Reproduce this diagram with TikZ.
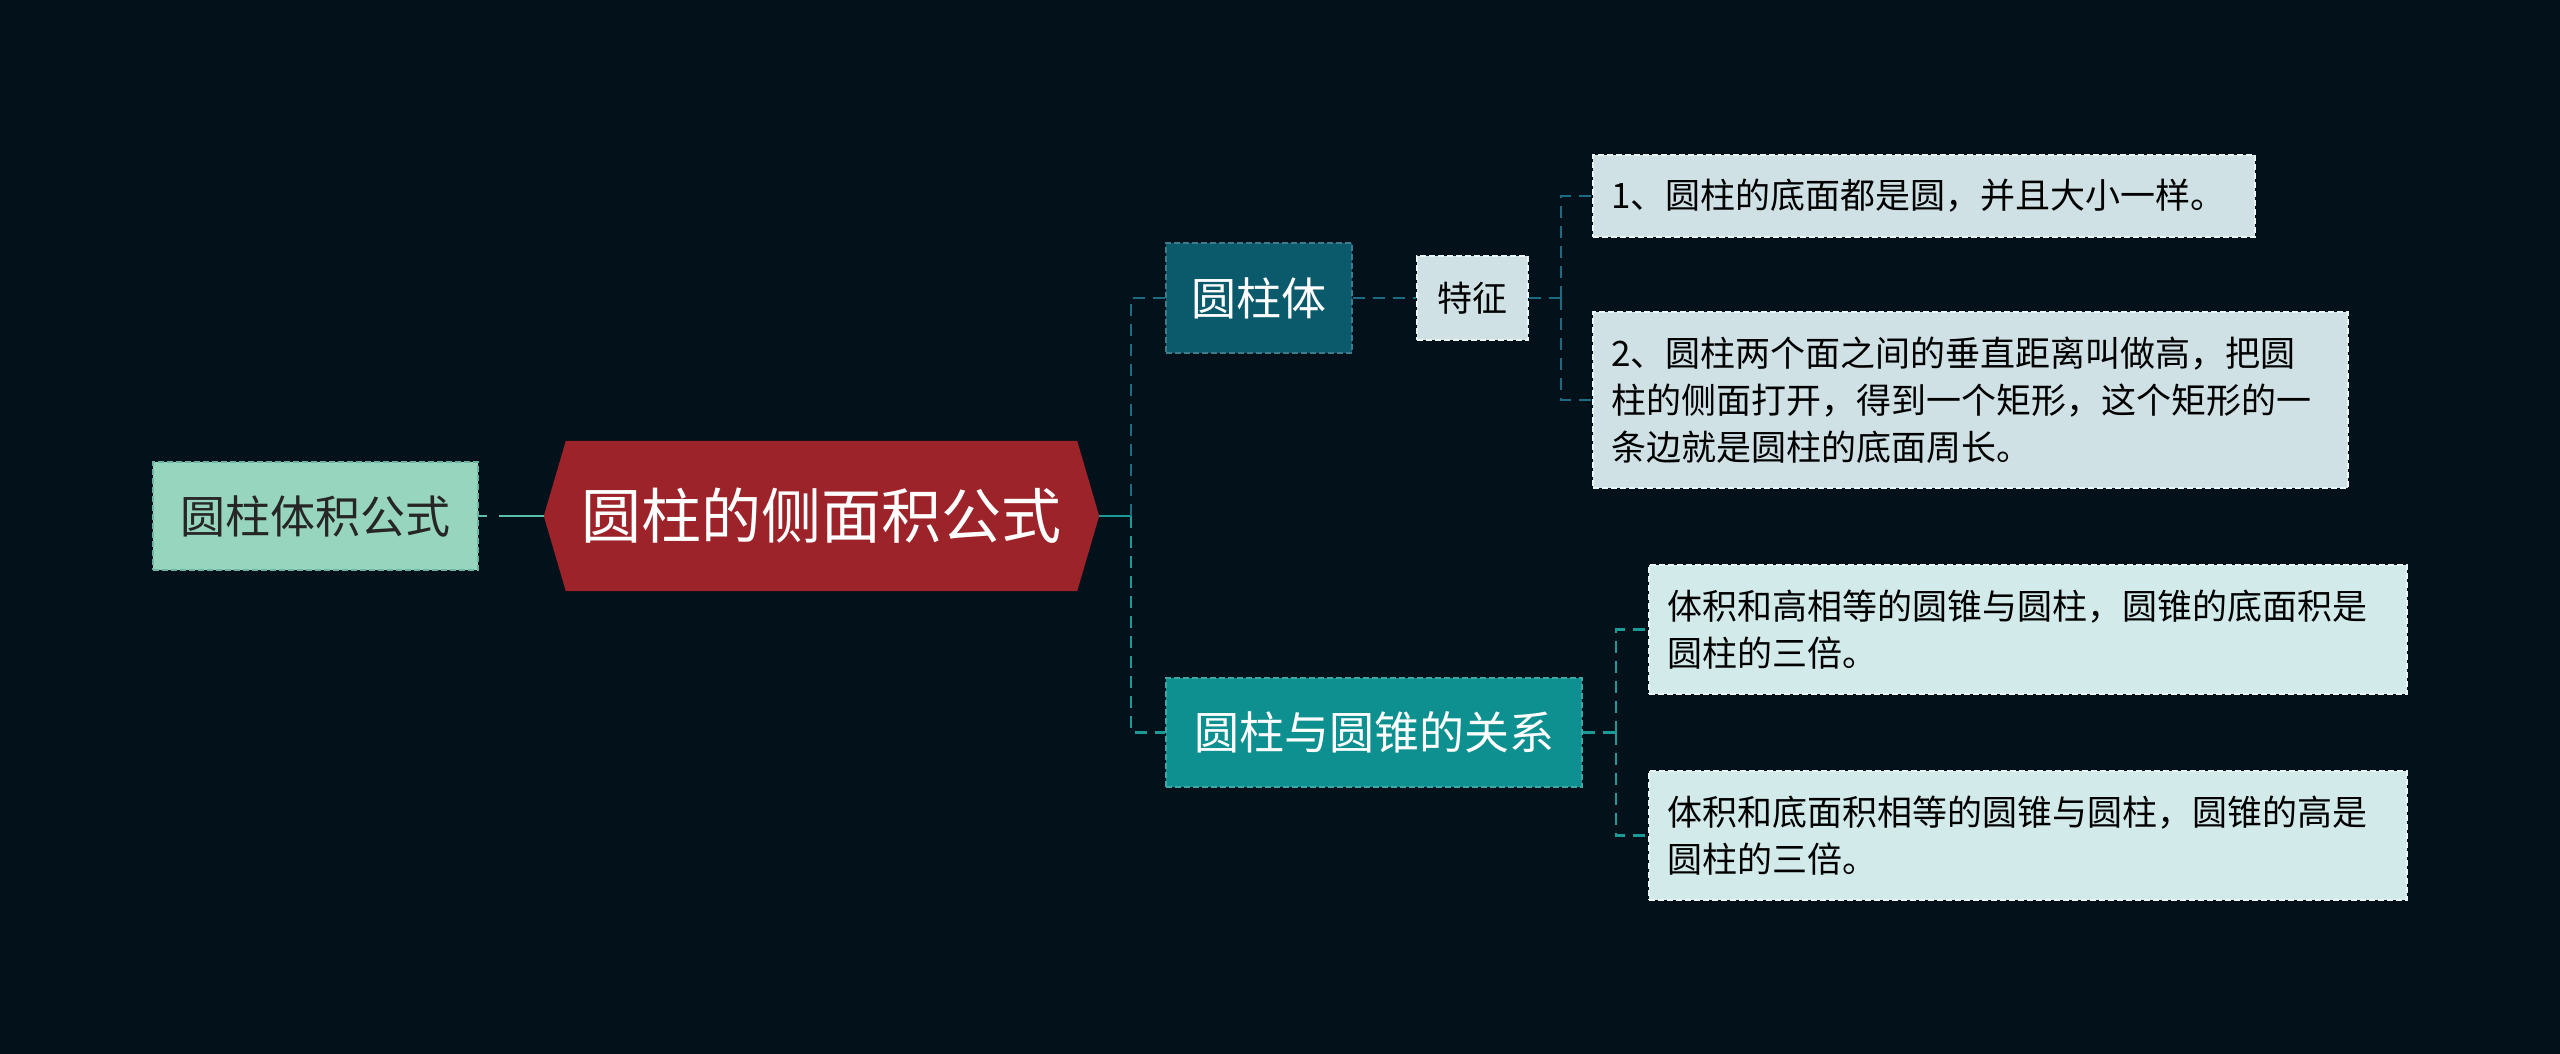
\documentclass[tikz,border=0pt]{standalone}
\usepackage{fontspec}
\setmainfont{Noto Sans CJK SC}
\usepackage{tikz}
\usetikzlibrary{positioning}
\pgfdeclarelayer{back}
\pgfsetlayers{back,main}
\definecolor{bgc}{RGB}{3,17,26}
\definecolor{mintc}{RGB}{151,213,190}
\definecolor{mintd}{RGB}{110,180,158}
\definecolor{hexc}{RGB}{156,35,41}
\definecolor{cylc}{RGB}{11,90,108}
\definecolor{relc}{RGB}{15,144,144}
\definecolor{leafc}{RGB}{207,225,229}
\definecolor{leafr}{RGB}{210,235,234}
\definecolor{leafd}{RGB}{235,245,246}
\definecolor{linkb}{RGB}{27,108,128}
\definecolor{linkt}{RGB}{27,154,152}
\definecolor{linkm}{RGB}{92,191,174}

\begin{document}
\begin{tikzpicture}[x=1pt,y=-1pt,
  box/.style={draw,dash pattern=on 6pt off 3pt,line width=1.4pt,inner xsep=18pt,inner ysep=0pt},
  leaf/.style={box,fill=leafc,draw=leafd,text=black,align=left,font=\fontsize{35}{47}\selectfont},
  mid/.style={box,text=white,align=center,font=\fontsize{45}{54}\selectfont},
  link/.style={line width=2.5pt,dash pattern=on 12pt off 8pt}]
\useasboundingbox (0,0) rectangle (2560,1054);

\node[box,fill=mintc,draw=mintd,text=black!85,font=\fontsize{45}{54}\selectfont,minimum width=325pt,minimum height=108pt] (vol) at (315.5,516) {圆柱体积公式};
\node[inner sep=0pt,minimum width=555pt,minimum height=150pt,text=white,font=\fontsize{60}{70}\selectfont] (side) at (821.5,516) {圆柱的侧面积公式};

\node[mid,fill=cylc,draw=cylc!80!white,minimum width=186pt,minimum height=110pt] (cyl) at (1259,298) {圆柱体};
\node[mid,fill=relc,draw=relc!80!white,minimum width=416pt,minimum height=109pt] (rel) at (1374,732.5) {圆柱与圆锥的关系};

\node[leaf,align=center,inner xsep=12pt,minimum width=111pt,minimum height=84pt] (feat) at (1472.5,298) {特征};

\node[leaf,text width=626pt,minimum height=82pt] (f1) at (1924,196) {1、圆柱的底面都是圆，并且大小一样。};
\node[leaf,text width=719pt,minimum height=176pt] (f2) at (1970.5,400) {2、圆柱两个面之间的垂直距离叫做高，把圆\\柱的侧面打开，得到一个矩形，这个矩形的一\\条边就是圆柱的底面周长。};
\node[leaf,fill=leafr,text width=722pt,minimum height=129pt] (r1) at (2028,629.5) {体积和高相等的圆锥与圆柱，圆锥的底面积是\\圆柱的三倍。};
\node[leaf,fill=leafr,text width=722pt,minimum height=129pt] (r2) at (2028,835.5) {体积和底面积相等的圆锥与圆柱，圆锥的高是\\圆柱的三倍。};

\coordinate (ja) at (1131,516);
\coordinate (jb) at (1561,298);
\coordinate (jc) at (1616,732.5);

\draw[linkm,line width=2.5pt,dash pattern=on 8pt off 12pt on 100pt off 0pt] (vol.east) -- (side.west);
\draw[linkt,line width=2.5pt] (side.east) -- (ja);
\draw[link,linkb] (ja) |- (cyl.west);
\draw[link,linkt] (ja) |- (rel.west);
\draw[link,linkb] (cyl.east) -- (feat.west);
\draw[link,linkb] (feat.east) -- (jb);
\draw[link,linkb] (jb) |- (f1.west);
\draw[link,linkb] (jb) |- (f2.west);
\draw[link,linkt] (rel.east) -- (jc);
\draw[link,linkt] (jc) |- (r1.west);
\draw[link,linkt] (jc) |- (r2.west);

\begin{pgfonlayer}{back}
\fill[bgc] (0,0) rectangle (2560,1054);
\fill[hexc] ([xshift=22pt]side.north west) -- ([xshift=-22pt]side.north east) -- (side.east)
  -- ([xshift=-22pt]side.south east) -- ([xshift=22pt]side.south west) -- (side.west) -- cycle;
\end{pgfonlayer}
\end{tikzpicture}
\end{document}
